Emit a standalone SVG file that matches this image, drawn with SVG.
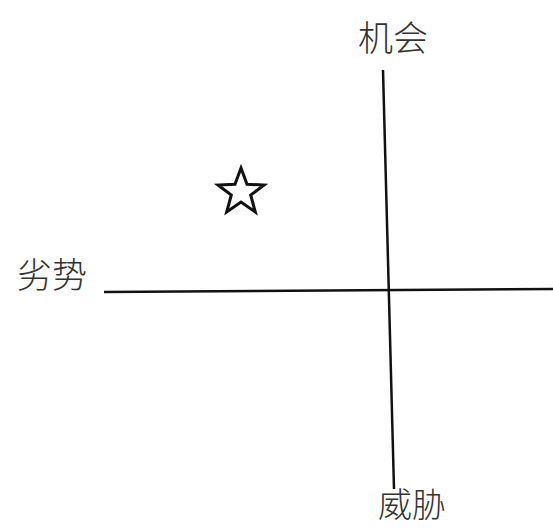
<svg xmlns="http://www.w3.org/2000/svg" width="553" height="528" viewBox="0 0 553 528">
<style>
.lbl{font-family:"Noto Sans CJK SC","Noto Sans CJK JP",sans-serif;font-size:35px;fill:#333;font-weight:300}
.ax{stroke:#111;stroke-width:2.5;fill:none}
</style>
<rect width="553" height="528" fill="#fff"/>
<g id="connectors">
<line class="ax" x1="383" y1="70" x2="394" y2="489"/>
<line class="ax" x1="104" y1="292" x2="553" y2="289"/>
</g>
<g id="opportunity"><text class="lbl" x="393" y="51" text-anchor="middle">机会</text></g>
<g id="weakness"><text class="lbl" x="17" y="288">劣势</text></g>
<g id="threat"><text class="lbl" x="412" y="517" text-anchor="middle" style="font-size:34px">威胁</text></g>
<g id="star">
<polygon points="241,168 247,184.3 264,185 250.7,195 255.3,212 241,202 226.7,212 231.3,195 218,185 235,184.3" fill="none" stroke="#111" stroke-width="3" stroke-linejoin="miter"/>
</g>
</svg>
